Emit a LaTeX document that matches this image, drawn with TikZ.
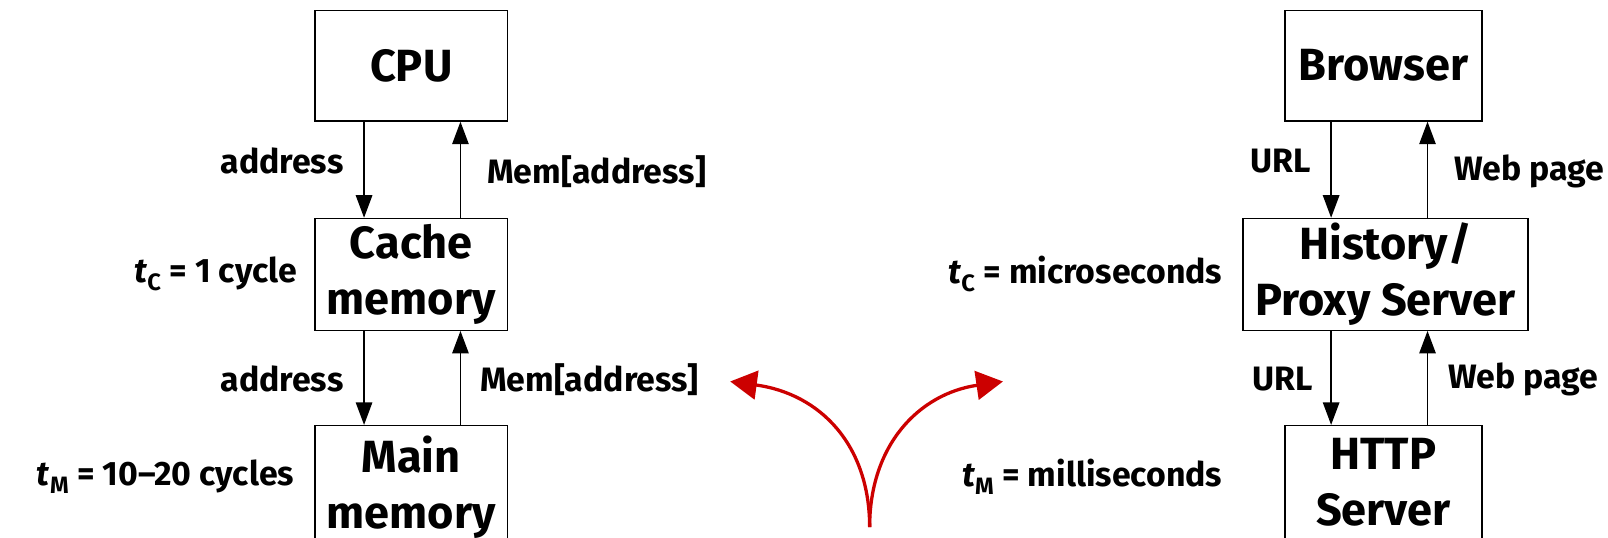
\documentclass[tikz,border=0pt]{standalone}
\usepackage{fontspec}
\setmainfont{Fira Sans}
\usetikzlibrary{arrows.meta,calc}
\definecolor{arrred}{HTML}{CC0000}
\tikzset{
  box/.style={draw=black, line width=1.3pt, minimum width=188pt, minimum height=108pt, inner sep=0pt, align=center, font=\fontsize{44}{55}\selectfont\bfseries},
  lbl/.style={font=\fontsize{33}{38}\selectfont\bfseries, inner sep=0pt},
  conn/.style={line width=1.6pt, -{Triangle[length=22pt,width=16pt]}},
  redarrow/.style={draw=arrred, line width=3.2pt, -{Triangle[length=26pt,width=28pt]}},
}
\newcommand{\tsub}[1]{\textit{t}\textsubscript{#1}}
\begin{document}
\begin{tikzpicture}[x=1pt,y=1pt]
\useasboundingbox (0,0) rectangle (1568,524);
\clip (0,0) rectangle (1568,524);
% left column
\node[box] (cpu) at (401,460) {CPU};
\node[box, minimum height=109pt] (cache) at (401,256.5) {Cache\\memory};
\node[box, minimum height=140pt] (main) at (401,39) {Main\\memory\rule[-30pt]{0pt}{0pt}};
\coordinate (c1) at ($(cpu.south)+(-46,0)$);
\coordinate (c2) at ($(cpu.south)+(48,0)$);
\draw[conn] (c1) -- (c1 |- cache.north);
\draw[conn] (c2 |- cache.north) -- (c2);
\draw[conn] (c1 |- cache.south) -- (c1 |- main.north);
\draw[conn] (c2 |- main.north) -- (c2 |- cache.south);
\node[lbl, anchor=east] (a1) at (335,367) {address};
\node[lbl, anchor=west] (m1) at (475,357) {Mem[address]};
\node[lbl, anchor=east] (a2) at (335,154) {address};
\node[lbl, anchor=west] (m2) at (468,154) {Mem[address]};
\node[lbl, anchor=east] (tc1) at (290,257) {\tsub{C} = 1 cycle};
\node[lbl, anchor=east] (tm1) at (287,59) {\tsub{M} = 10--20 cycles};
% right column
\node[box, minimum width=192pt] (br) at (1349,460) {Browser};
\node[box, minimum width=278pt, minimum height=109pt] (hp) at (1351,256.5) {History/\\Proxy Server};
\node[box, minimum width=192pt, minimum height=140pt] (http) at (1349,39) {HTTP\\Server\rule[-30pt]{0pt}{0pt}};
\coordinate (b1) at ($(br.south)+(-51,0)$);
\coordinate (b2) at ($(br.south)+(43,0)$);
\draw[conn] (b1) -- (b1 |- hp.north);
\draw[conn] (b2 |- hp.north) -- (b2);
\draw[conn] (b1 |- hp.south) -- (b1 |- http.north);
\draw[conn] (b2 |- http.north) -- (b2 |- hp.south);
\node[lbl, anchor=east] (u1) at (1278,367) {URL};
\node[lbl, anchor=west] (w1) at (1418,357) {Web page};
\node[lbl, anchor=east] (u2) at (1280,154) {URL};
\node[lbl, anchor=west] (w2) at (1412,154) {Web page};
\node[lbl, anchor=east] (tc2) at (1192,257) {\tsub{C} = microseconds};
\node[lbl, anchor=east] (tm2) at (1192,59) {\tsub{M} = milliseconds};
% red arrows
\coordinate (root) at (848,10);
\coordinate (lt) at (712,152);
\coordinate (rt) at (978,152);
\draw[redarrow] (root) .. controls (848,90) and (800,140) .. (lt);
\draw[redarrow] (root) .. controls (848,90) and (896,140) .. (rt);
\end{tikzpicture}
\end{document}
